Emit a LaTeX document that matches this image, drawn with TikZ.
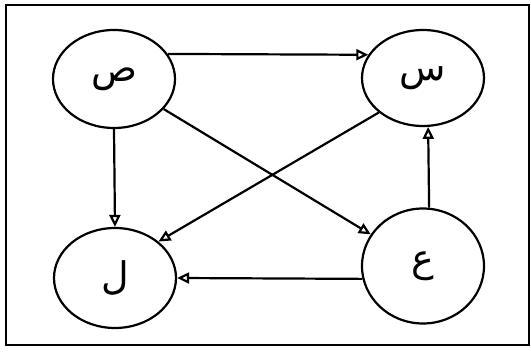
\documentclass[tikz,border=0pt]{standalone}
\usepackage{fontspec}
\newfontfamily\arabicfont[Script=Arabic]{DejaVu Sans}
\TeXXeTstate=1
\usetikzlibrary{shapes.geometric,arrows.meta}
\begin{document}
\begin{tikzpicture}[x=1pt,y=-1pt,
  state/.style={ellipse,draw,line width=2.2pt,inner sep=0pt,font=\arabicfont\fontsize{38}{44}\selectfont},
  edge/.style={line width=2.2pt,-{Triangle[open,length=12pt,width=11pt]}}]
\useasboundingbox (0,0) rectangle (531,352);
\draw[line width=2.4pt] (6,5) rectangle (529,345);
\node[state,minimum width=122pt,minimum height=98pt] (sad) at (114,79) {\beginR ص\endR};
\node[state,minimum width=122pt,minimum height=96pt] (sin) at (423,78) {\beginR س\endR};
\node[state,minimum width=122pt,minimum height=100pt] (lam) at (115,278) {\beginR ل\endR};
\node[state,minimum width=122pt,minimum height=115pt] (ain) at (423,266) {\beginR ع\endR};
\draw[edge] (sad.25) -- (sin.157);
\draw[edge] (sad) -- (ain);
\draw[edge] (sad.south) -- (lam.north);
\draw[edge] (sin.218) -- (lam.40);
\draw[edge] (ain.84) -- (sin.276);
\draw[edge] (ain.192) -- (lam.0);
\end{tikzpicture}
\end{document}
